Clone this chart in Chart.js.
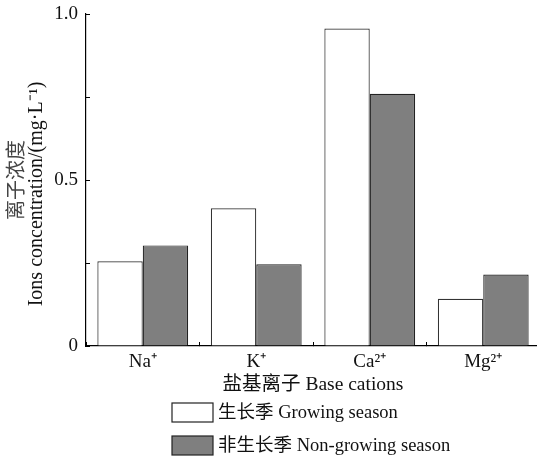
<!DOCTYPE html>
<html>
<head>
<meta charset="utf-8">
<script src="https://cdn.jsdelivr.net/npm/chart.js@4"></script>
<style>
  html, body { margin: 0; padding: 0; background: #fff; overflow: hidden; }
  #wrap { width: 540px; height: 459px; }
</style>
</head>
<body>
<div id="wrap"><canvas id="ionChart" width="540" height="459"></canvas></div>
<script>
const categories = ["Na\u207A", "K\u207A", "Ca\u00B2\u207A", "Mg\u00B2\u207A"];
const growingSeason = [0.255, 0.415, 0.956, 0.142];
const nonGrowingSeason = [0.303, 0.246, 0.760, 0.215];
const yTickLabels = { 0: "0", 0.5: "0.5", 1: "1.0" };
const yTitleLines = ["离子浓度", "Ions concentration/(mg\u00B7L\u207B\u00B9)"];

const serif = "'Liberation Serif', 'Times New Roman', 'Noto Sans CJK SC', serif";

// legend stacked under the x axis title
const stackedLegend = {
  id: "stackedLegend",
  afterDraw(chart) {
    const ctx = chart.ctx;
    ctx.save();
    ctx.font = "18.5px " + serif;
    ctx.textBaseline = "middle";
    ctx.textAlign = "left";
    chart.data.datasets.forEach((ds, i) => {
      const top = 403 + i * 33;
      ctx.fillStyle = ds.backgroundColor;
      ctx.fillRect(172, top, 41, 19);
      ctx.strokeStyle = "#222";
      ctx.lineWidth = 1.2;
      ctx.strokeRect(172, top, 41, 19);
      ctx.fillStyle = "#111";
      ctx.fillText(ds.label, 218, top + 10);
    });
    ctx.restore();
  },
};

// two-line rotated y title, each line centred on its own
const yTitle = {
  id: "yTitle",
  afterDraw(chart) {
    const ctx = chart.ctx;
    const mid = (chart.chartArea.top + chart.chartArea.bottom) / 2;
    ctx.save();
    ctx.font = "20px " + serif;
    ctx.textAlign = "center";
    ctx.textBaseline = "middle";
    ctx.translate(18, mid);
    ctx.rotate(-Math.PI / 2);
    ctx.fillStyle = "#444";
    ctx.fillText(yTitleLines[0], 0, 0);
    ctx.fillStyle = "#111";
    ctx.fillText(yTitleLines[1], -14, 19);
    ctx.restore();
  },
};

const ctx = document.getElementById("ionChart").getContext("2d");
new Chart(ctx, {
  type: "bar",
  data: {
    labels: categories,
    datasets: [
      {
        label: "生长季 Growing season",
        data: growingSeason,
        backgroundColor: "#ffffff",
        borderColor: "#333333",
        borderWidth: 1.2,
      },
      {
        label: "非生长季 Non-growing season",
        data: nonGrowingSeason,
        backgroundColor: "#7f7f7f",
        borderColor: "#222222",
        borderWidth: 1.2,
      },
    ],
  },
  options: {
    responsive: false,
    animation: false,
    layout: { padding: { left: 8, right: 0, top: 14, bottom: 62 } },
    datasets: { bar: { categoryPercentage: 0.8, barPercentage: 1.0 } },
    plugins: {
      legend: { display: false },
      tooltip: { enabled: false },
    },
    scales: {
      x: {
        grid: {
          offset: true,
          drawOnChartArea: false,
          tickLength: -4,
          color: "#000",
          lineWidth: 1,
        },
        border: { display: true, color: "#000", width: 1.2 },
        ticks: {
          color: "#111",
          padding: 9,
          font: { family: serif, size: 19 },
        },
        title: {
          display: true,
          text: "盐基离子 Base cations",
          color: "#111",
          padding: { top: 0, bottom: 0 },
          font: { family: serif, size: 19.5 },
        },
        afterFit(scale) {
          scale.height = 51;
          scale.paddingLeft = 0;
          scale.paddingRight = 0;
        },
      },
      y: {
        min: 0,
        max: 1,
        grid: {
          drawOnChartArea: false,
          tickLength: -4,
          color: "#000",
          lineWidth: 1,
        },
        border: { display: true, color: "#000", width: 1.2 },
        ticks: {
          stepSize: 0.25,
          color: "#111",
          padding: 12,
          font: { family: serif, size: 19 },
          callback: (v) => (v in yTickLabels ? yTickLabels[v] : ""),
        },
        afterFit(scale) {
          scale.width = 78;
          scale.paddingTop = 0;
          scale.paddingBottom = 0;
        },
      },
    },
  },
  plugins: [stackedLegend, yTitle],
});
</script>
</body>
</html>
